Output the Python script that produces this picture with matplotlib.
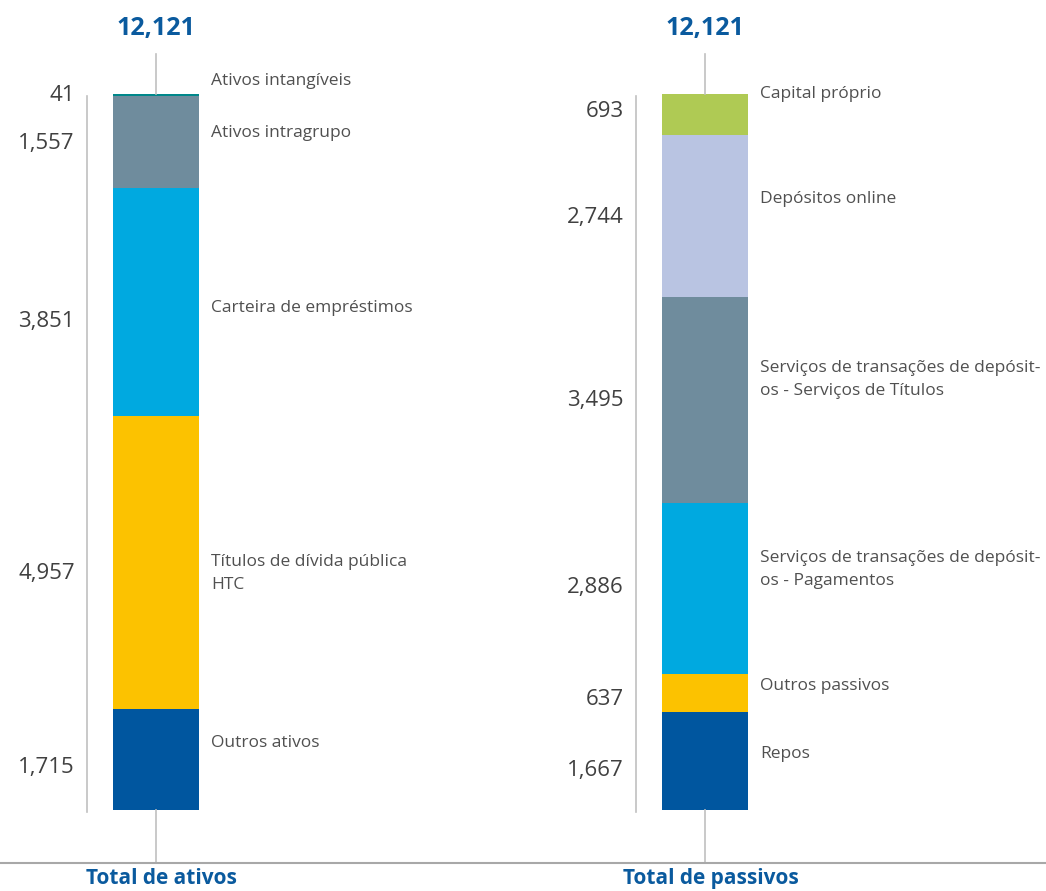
import matplotlib.pyplot as plt

# values (millions), listed bottom to top
assets_labels = ["Outros ativos", "Títulos de dívida pública\nHTC", "Carteira de empréstimos",
                 "Ativos intragrupo", "Ativos intangíveis"]
assets_values = [1715, 4957, 3851, 1557, 41]
assets_colors = ["#00569f", "#fcc200", "#00a9e0", "#6f8c9d", "#00878a"]

liab_labels = ["Repos", "Outros passivos",
               "Serviços de transações de depósit-\nos - Pagamentos",
               "Serviços de transações de depósit-\nos - Serviços de Títulos",
               "Depósitos online", "Capital próprio"]
liab_values = [1667, 637, 2886, 3495, 2744, 693]
liab_colors = ["#00569f", "#fcc200", "#00a9e0", "#6f8c9d", "#b9c4e2", "#afca54"]

totals = [12121, 12121]
column_titles = ["Total de ativos", "Total de passivos"]

# label nudges in points (positive = up)
assets_name_dy = [12, -8, -4, 7, 10]
assets_val_dy = [-6, -8, -14, -1, 0]
liab_name_dy = [5, 5, 14, 15, 12, 15]
liab_val_dy = [-7, -5, 1, 0, -1, 2]

blue = "#0a5a9e"
grey_line = "#c0c0c0"
plt.rcParams['font.family'] = ['Open Sans', 'DejaVu Sans']

fig = plt.figure(figsize=(10.46, 8.91), dpi=100)
ax = fig.add_axes([0, 0, 1, 1])
ax.set_xlim(-0.284, 1.621)
ax.set_ylim(-1371, 13712)
ax.axis('off')

width = 0.158
columns = [(assets_values, assets_colors, assets_labels, assets_name_dy, assets_val_dy),
           (liab_values, liab_colors, liab_labels, liab_name_dy, liab_val_dy)]

for i, (vals, cols, labs, ndy, vdy) in enumerate(columns):
    bottom = 0
    for v, c, lab, nd, vd in zip(vals, cols, labs, ndy, vdy):
        ax.bar(i, v, width=width, bottom=bottom, color=c, linewidth=0)
        mid = bottom + v / 2
        ax.annotate(f"{v:,}", (i - 0.148, mid), xytext=(0, vd), textcoords='offset points',
                    ha='right', va='center', fontsize=16, color='#404040')
        ax.annotate(lab, (i + 0.1, mid), xytext=(0, nd), textcoords='offset points',
                    ha='left', va='center', fontsize=12.5, color='#505050', linespacing=1.55)
        bottom += v
    # thin side rule and centre ticks
    ax.plot([i - 0.126, i - 0.126], [-30, sum(vals) - 40], color=grey_line, lw=1.2)
    ax.plot([i, i], [sum(vals), 12790], color=grey_line, lw=1.2)
    ax.plot([i, i], [-900, 0], color=grey_line, lw=1.2)
    ax.text(i, 13238, f"{totals[i]:,}", ha='center', va='center', fontsize=18,
            fontweight='bold', color=blue)
    ax.text(i + 0.01, -1160, column_titles[i], ha='center', va='center', fontsize=15,
            fontweight='bold', color=blue)

ax.axhline(-900, color='#a8a8a8', lw=1.5)

fig.savefig("out.png", dpi=100)
